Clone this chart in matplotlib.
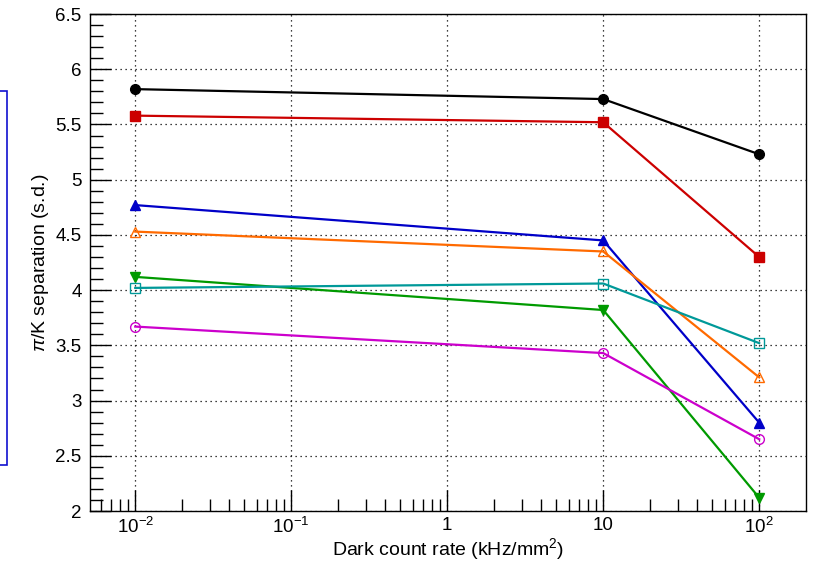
import matplotlib
matplotlib.use('Agg')
import matplotlib.pyplot as plt
import matplotlib.ticker as mticker
from matplotlib.patches import Rectangle

plt.rcParams['font.family'] = ['Liberation Sans', 'DejaVu Sans']
plt.rcParams['mathtext.fontset'] = 'custom'
plt.rcParams['mathtext.rm'] = 'Liberation Sans'
plt.rcParams['mathtext.it'] = 'Liberation Sans:italic'

# data
rate = [0.01, 10, 100]
sep_black = [5.82, 5.73, 5.23]
sep_red = [5.58, 5.52, 4.30]
sep_blue = [4.77, 4.45, 2.80]
sep_orange = [4.53, 4.35, 3.21]
sep_green = [4.12, 3.82, 2.12]
sep_teal = [4.02, 4.06, 3.52]
sep_magenta = [3.67, 3.43, 2.65]

xticks = [1e-2, 1e-1, 1, 10, 100]
xticklabels = ['$\\mathregular{10^{-2}}$', '$\\mathregular{10^{-1}}$', '1', '10',
               '$\\mathregular{10^{2}}$']

fig = plt.figure(figsize=(8.13, 5.61), dpi=100)
ax = fig.add_axes([0.1107, 0.0891, 0.8807, 0.8859])

# series: (values, color, marker, filled)
series = [
    (sep_black, '#000000', 'o', True),
    (sep_red, '#cc0000', 's', True),
    (sep_blue, '#0000c8', '^', True),
    (sep_orange, '#ff6a00', '^', False),
    (sep_green, '#009a00', 'v', True),
    (sep_teal, '#009999', 's', False),
    (sep_magenta, '#cc00cc', 'o', False),
]
for vals, col, mk, filled in series:
    ax.plot(rate, vals, color=col, lw=1.6, marker=mk, ms=7.5 if mk in '^v' else 7,
            markerfacecolor=col if filled else 'none', markeredgecolor=col,
            markeredgewidth=1.0, zorder=3)

ax.set_xscale('log')
ax.set_xlim(10**-2.29, 10**2.30)
ax.set_ylim(2, 6.5)

ax.set_xticks(xticks)
ax.set_xticklabels(xticklabels)
ax.xaxis.set_minor_locator(mticker.LogLocator(base=10, subs=range(2, 10), numticks=20))
ax.xaxis.set_minor_formatter(mticker.NullFormatter())
ax.set_yticks([2, 2.5, 3, 3.5, 4, 4.5, 5, 5.5, 6, 6.5])
ax.set_yticklabels(['2', '2.5', '3', '3.5', '4', '4.5', '5', '5.5', '6', '6.5'])
ax.yaxis.set_minor_locator(mticker.MultipleLocator(0.1))

ax.tick_params(which='major', direction='in', length=15, width=1, labelsize=13.5, pad=6)
ax.tick_params(which='minor', direction='in', length=9, width=1)
ax.tick_params(axis='x', which='major', pad=4)
ax.grid(True, which='major', linestyle=(0, (1, 3)), color='black', lw=0.9)
ax.set_axisbelow(True)
for sp in ax.spines.values():
    sp.set_linewidth(1.0)

ax.set_xlabel('Dark count rate (kHz/mm$^2$)', fontsize=14)
ax.xaxis.set_label_coords(0.5, -0.05)
ax.set_ylabel('$\\pi$/K separation (s.d.)', fontsize=14, labelpad=3)

# partly visible box at the left edge
fig.patches.append(Rectangle((-0.02, 0.171), 0.0286, 0.667, transform=fig.transFigure,
                             fill=False, edgecolor='#1010d0', lw=1.2))

fig.savefig('out.png', dpi=100)
